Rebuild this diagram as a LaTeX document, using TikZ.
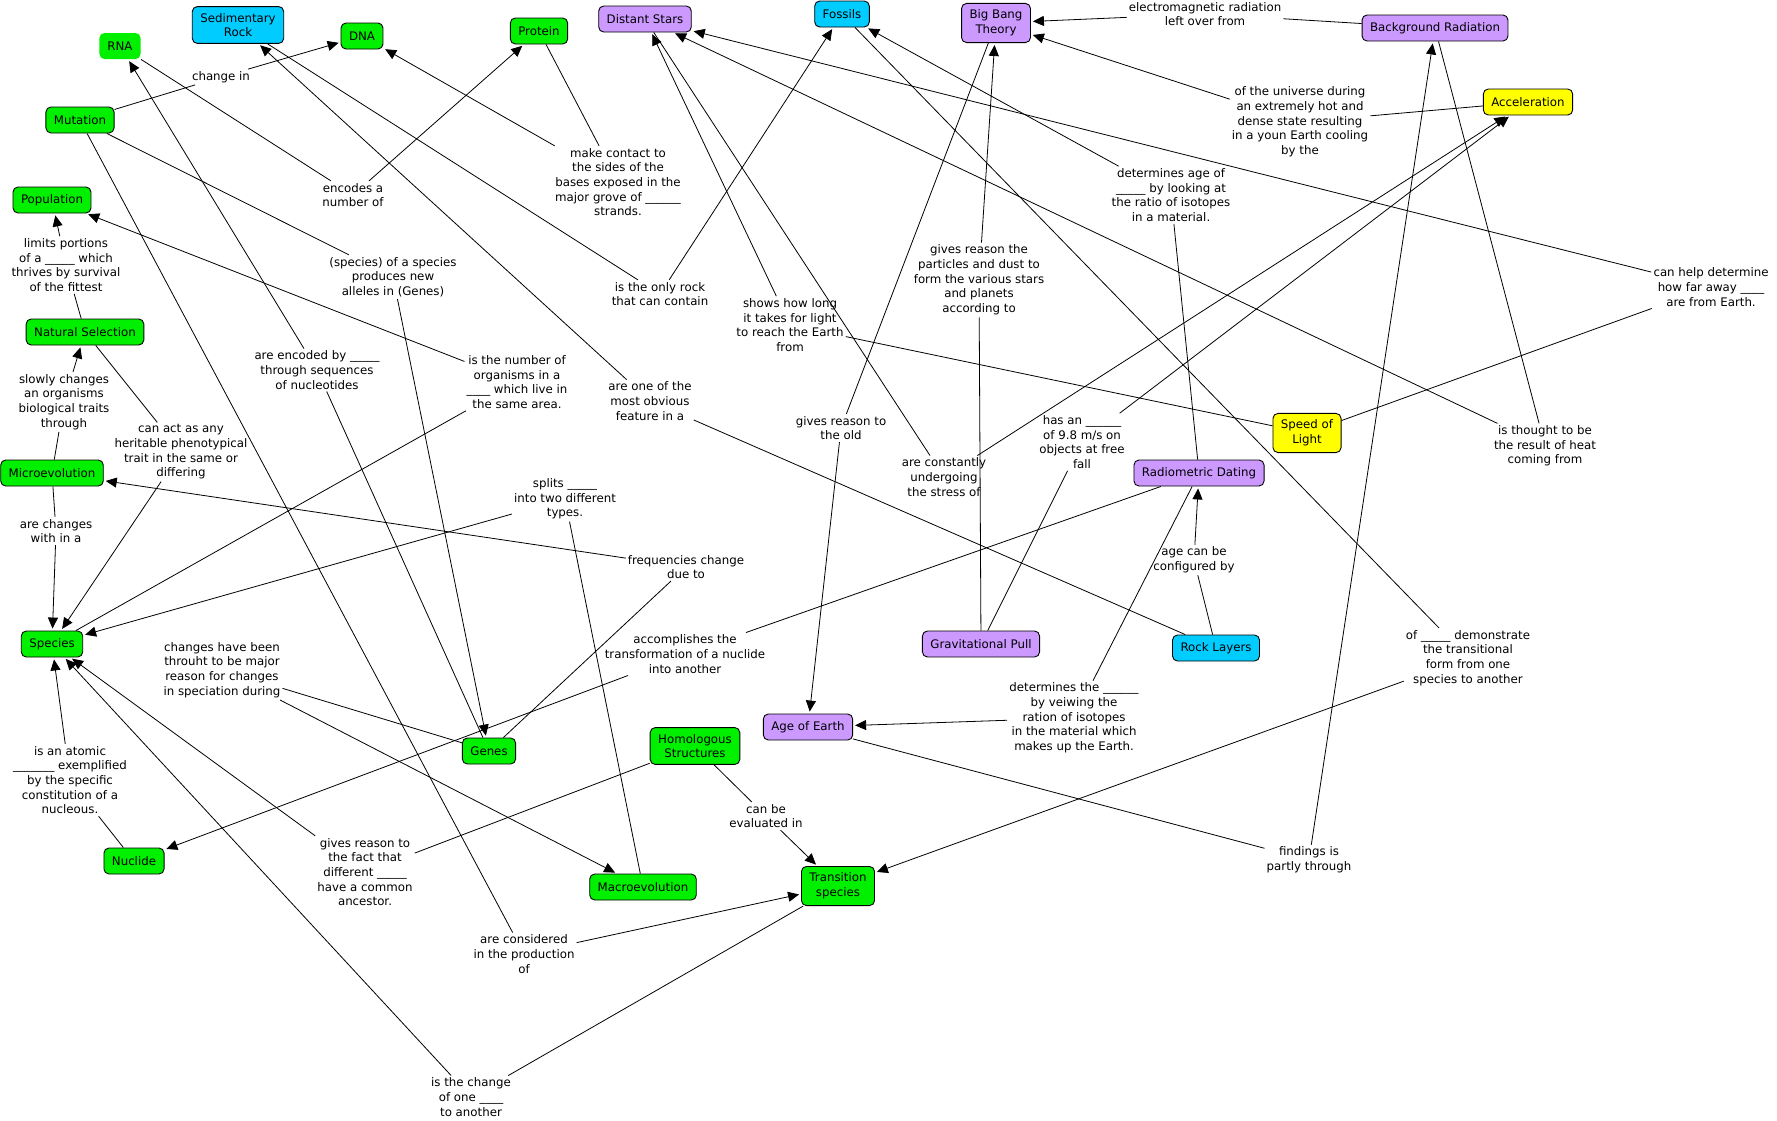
\documentclass[tikz,border=0pt]{standalone}
\usepackage{fontspec}
\setmainfont{DejaVu Sans}
\usetikzlibrary{arrows.meta}
\definecolor{cmapgreen}{RGB}{0,240,0}
\definecolor{cmappurple}{RGB}{204,153,255}
\definecolor{cmapcyan}{RGB}{0,204,255}
\definecolor{cmapyellow}{RGB}{255,255,0}

\tikzset{
  concept/.style={draw=black, line width=0.9pt, rounded corners=5pt, align=center,
    inner xsep=8pt, inner ysep=6.5pt, minimum height=26pt,
    font=\fontsize{11.8}{14.7}\selectfont},
  gconcept/.style={concept, fill=cmapgreen},
  pconcept/.style={concept, fill=cmappurple},
  cconcept/.style={concept, fill=cmapcyan},
  yconcept/.style={concept, fill=cmapyellow},
  phrase/.style={align=center, inner sep=2pt, font=\fontsize{11.8}{14.7}\selectfont},
  link/.style={line width=0.8pt},
  linkto/.style={link, -{Triangle[length=11pt,width=10pt]}, shorten >=2pt}
}

\begin{document}
\begin{tikzpicture}[x=1pt, y=-1pt]
            \useasboundingbox (0,0) rectangle (1777,1120);

            % concepts
            \node[gconcept, draw=none] (rna) at (120,46) {RNA};
            \node[cconcept] (sed) at (238,25) {Sedimentary\\Rock};
            \node[gconcept] (dna) at (362,36) {DNA};
            \node[gconcept] (mut) at (80,120) {Mutation};
            \node[gconcept] (pop) at (52,200) {Population};
            \node[gconcept] (nat) at (85,332) {Natural Selection};
            \node[gconcept] (pro) at (539,31) {Protein};
            \node[pconcept] (dst) at (645,19) {Distant Stars};
            \node[cconcept] (fos) at (842,14) {Fossils};
            \node[pconcept] (bbt) at (996,23) {Big Bang\\Theory};
            \node[pconcept] (bgr) at (1435,28) {Background Radiation};
            \node[yconcept] (acc) at (1528,102) {Acceleration};
            \node[gconcept] (mic) at (52,473) {Microevolution};
            \node[gconcept] (spe) at (52,644) {Species};
            \node[yconcept] (sol) at (1307,433) {Speed of\\Light};
            \node[pconcept] (rad) at (1199,473) {Radiometric Dating};
            \node[pconcept] (grv) at (981,644) {Gravitational Pull};
            \node[cconcept] (rck) at (1216,648) {Rock Layers};
            \node[pconcept] (age) at (808,727) {Age of Earth};
            \node[gconcept] (gen) at (489,751) {Genes};
            \node[gconcept] (hom) at (695,746) {Homologous\\Structures};
            \node[gconcept] (mac) at (643,887) {Macroevolution};
            \node[gconcept] (trs) at (838,886) {Transition\\species};
            \node[gconcept] (ncl) at (134,861) {Nuclide};

            % linking phrases
            \node[phrase] (chg) at (221,77) {change in};
            \node[phrase] (enc) at (353,195) {encodes a\\number of};
            \node[phrase] (mkc) at (618,182) {make contact to\\the sides of the\\bases exposed in the\\major grove of \_\_\_\_\_\_\\strands.};
            \node[phrase] (spc) at (393,277) {(species) of a species\\produces new\\alleles in (Genes)};
            \node[phrase] (lim) at (66,265) {limits portions\\of a \_\_\_\_\_ which\\thrives by survival\\of the fittest};
            \node[phrase] (slw) at (64,402) {slowly changes\\an organisms\\biological traits\\through};
            \node[phrase] (act) at (181,452) {can act as any\\heritable phenotypical\\trait in the same or\\differing};
            \node[phrase] (arc) at (56,531) {are changes\\with in a};
            \node[phrase] (num) at (517,382) {is the number of\\organisms in a\\\_\_\_\_ which live in\\the same area.};
            \node[phrase] (spl) at (565,499) {splits \_\_\_\_\_\\into two different\\types.};
            \node[phrase] (frq) at (686,567) {frequencies change\\due to};
            \node[phrase] (trf) at (685,654) {accomplishes the\\transformation of a nuclide\\into another};
            \node[phrase] (obv) at (650,401) {are one of the\\most obvious\\feature in a};
            \node[phrase] (onl) at (660,294) {is the only rock\\that can contain};
            \node[phrase] (how) at (790,325) {shows how long\\it takes for light\\to reach the Earth\\from};
            \node[phrase] (cst) at (944,477) {are constantly\\undergoing\\the stress of};
            \node[phrase] (has) at (1082,442) {has an \_\_\_\_\_\_\\of 9.8 m/s on\\objects at free\\fall};
            \node[phrase] (gvp) at (979,280) {gives reason the\\particles and dust to\\form the various stars\\and planets\\according to};
            \node[phrase] (old) at (841,428) {gives reason to\\the old};
            \node[phrase] (dag) at (1171,195) {determines age of\\\_\_\_\_\_ by looking at\\the ratio of isotopes\\in a material.};
            \node[phrase] (emr) at (1205,14) {electromagnetic radiation\\left over from};
            \node[phrase] (unv) at (1300,122) {of the universe during\\an extremely hot and\\dense state resulting\\in a youn Earth cooling\\by the};
            \node[phrase] (far) at (1711,287) {can help determine\\how far away \_\_\_\_\\are from Earth.};
            \node[phrase] (hot) at (1545,446) {is thought to be\\the result of heat\\coming from};
            \node[phrase] (det) at (1074,718) {determines the \_\_\_\_\_\_\\by veiwing the\\ration of isotopes\\in the material which\\makes up the Earth.};
            \node[phrase] (cfg) at (1194,560) {age can be\\configured by};
            \node[phrase] (fnd) at (1309,860) {findings is\\partly through};
            \node[phrase] (dem) at (1468,658) {of \_\_\_\_\_ demonstrate\\the transitional\\form from one\\species to another};
            \node[phrase] (evl) at (766,816) {can be\\evaluated in};
            \node[phrase] (anc) at (365,872) {gives reason to\\the fact that\\different \_\_\_\_\_\\have a common\\ancestor.};
            \node[phrase] (prd) at (524,954) {are considered\\in the production\\of};
            \node[phrase] (chn) at (471,1097) {is the change\\of one \_\_\_\_\\to another};
            \node[phrase] (atm) at (70,780) {is an atomic\\\_\_\_\_\_\_\_ exemplified\\by the specific\\constitution of a\\nucleous.};
            \node[phrase] (ecd) at (317,370) {are encoded by \_\_\_\_\_\\through sequences\\of nucleotides};
            \node[phrase] (spd) at (222,670) {changes have been\\throuht to be major\\reason for changes\\in speciation during};

            % biology side
            \draw[link] (mut) -- (chg);  \draw[linkto] (chg) -- (dna);
            \draw[link] (rna) -- (enc);  \draw[linkto] (enc) -- (pro);
            \draw[link] (pro) -- (mkc);  \draw[linkto] (mkc) -- (dna);
            \draw[link] (mut) -- (spc);  \draw[linkto] (spc) -- (gen);
            \draw[link] (nat) -- (lim);  \draw[linkto] (lim) -- (pop);
            \draw[link] (mic) -- (slw);  \draw[linkto] (slw) -- (nat);
            \draw[link] (nat) -- (act);  \draw[linkto] (act) -- (spe);
            \draw[link] (mic) -- (arc);  \draw[linkto] (arc) -- (spe);
            \draw[link] (spe) -- (num);  \draw[linkto] (num) -- (pop);
            \draw[link] (mac) -- (spl);  \draw[linkto] (spl) -- (spe);
            \draw[link] (gen) -- (frq);  \draw[linkto] (frq) -- (mic);
            \draw[link] (gen) -- (ecd);  \draw[linkto] (ecd) -- (rna);
            \draw[link] (gen) -- (spd);  \draw[linkto] (spd) -- (mac);
            \draw[link] (hom) -- (evl);  \draw[linkto] (evl) -- (trs);
            \draw[link] (hom) -- (anc);  \draw[linkto] (anc) -- (spe);
            \draw[link] (mut) -- (prd);  \draw[linkto] (prd) -- (trs);
            \draw[link] (trs) -- (chn);  \draw[linkto] (chn) -- (spe);
            \draw[link] (ncl) -- (atm);  \draw[linkto] (atm) -- (spe);

            % earth and space side
            \draw[link] (rad) -- (trf);  \draw[linkto] (trf) -- (ncl);
            \draw[link] (rck) -- (obv);  \draw[linkto] (obv) -- (sed);
            \draw[link] (sed) -- (onl);  \draw[linkto] (onl) -- (fos);
            \draw[link] (sol) -- (how);  \draw[linkto] (how) -- (dst);
            \draw[link] (dst) -- (cst);  \draw[linkto] (cst) -- (acc);
            \draw[link] (grv) -- (has);  \draw[linkto] (has) -- (acc);
            \draw[link] (grv) -- (gvp);  \draw[linkto] (gvp) -- (bbt);
            \draw[link] (bbt) -- (old);  \draw[linkto] (old) -- (age);
            \draw[link] (rad) -- (dag);  \draw[linkto] (dag) -- (fos);
            \draw[link] (bgr) -- (emr);  \draw[linkto] (emr) -- (bbt);
            \draw[link] (acc) -- (unv);  \draw[linkto] (unv) -- (bbt);
            \draw[link] (sol) -- (far);  \draw[linkto] (far) -- (dst);
            \draw[link] (bgr) -- (hot);  \draw[linkto] (hot) -- (dst);
            \draw[link] (rad) -- (det);  \draw[linkto] (det) -- (age);
            \draw[link] (rck) -- (cfg);  \draw[linkto] (cfg) -- (rad);
            \draw[link] (age) -- (fnd);  \draw[linkto] (fnd) -- (bgr);
            \draw[link] (fos) -- (dem);  \draw[linkto] (dem) -- (trs);
        \end{tikzpicture}
\end{document}
